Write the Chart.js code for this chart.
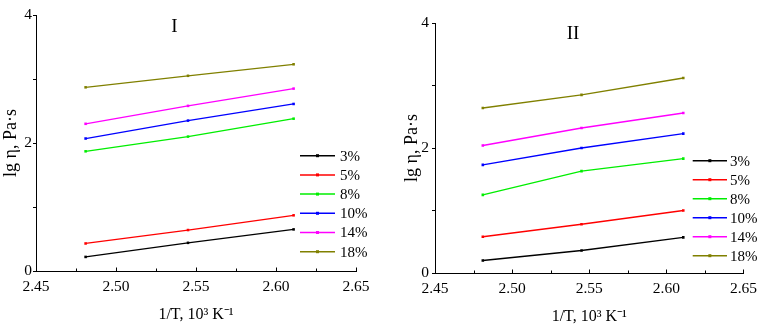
<!DOCTYPE html>
<html>
<head>
<meta charset="utf-8">
<script src="https://cdn.jsdelivr.net/npm/chart.js@4.4.1/dist/chart.umd.min.js"></script>
<style>
  body { margin: 0; background: #fff; }
  #wrap { position: relative; width: 764px; height: 326px; overflow: hidden; }
  canvas { position: absolute; top: 0; }
</style>
</head>
<body>
<div id="wrap">
  <canvas id="c1" width="380" height="326" style="left:0px"></canvas>
  <canvas id="c2" width="380" height="326" style="left:384px"></canvas>
</div>
<script>
// 1/T values, 10^3 K^-1
var xValues = [2.481, 2.545, 2.611];
var seriesLabels = ['3%', '5%', '8%', '10%', '14%', '18%'];
var seriesColors = ['#000000', '#ff0000', '#00ee00', '#0000ff', '#ff00ff', '#808000'];

// panel I, lg eta
var p1_3 = [0.22, 0.44, 0.65];
var p1_5 = [0.43, 0.64, 0.87];
var p1_8 = [1.87, 2.10, 2.38];
var p1_10 = [2.07, 2.35, 2.61];
var p1_14 = [2.30, 2.58, 2.85];
var p1_18 = [2.87, 3.05, 3.23];

// panel II, lg eta
var p2_3 = [0.20, 0.36, 0.57];
var p2_5 = [0.58, 0.78, 1.00];
var p2_8 = [1.25, 1.63, 1.83];
var p2_10 = [1.73, 2.00, 2.23];
var p2_14 = [2.04, 2.32, 2.56];
var p2_18 = [2.64, 2.85, 3.12];

var FONT = "'Liberation Serif', 'Times New Roman', serif";

function makeDatasets(series) {
  return series.map(function(vals, i) {
    return {
      label: seriesLabels[i],
      data: xValues.map(function(x, j) { return {x: x, y: vals[j]}; }),
      borderColor: seriesColors[i],
      backgroundColor: seriesColors[i],
      borderWidth: 1.3,
      pointStyle: 'rect',
      pointRadius: 1.8,
      pointBorderWidth: 0,
      tension: 0
    };
  });
}

function panelPlugin(p) {
  return {
    id: 'panelExtras',
    afterDraw: function(chart) {
      var ctx = chart.ctx;
      var xs = chart.scales.x;
      var yBase = Math.round(chart.chartArea.bottom) + 0.5;
      ctx.save();
      // inward ticks on x axis
      ctx.strokeStyle = '#000';
      ctx.lineWidth = 1;
      xs.ticks.forEach(function(t) {
        var px = Math.round(xs.getPixelForValue(t.value)) + 0.5;
        var major = Math.abs(t.value * 20 - Math.round(t.value * 20)) < 1e-6;
        ctx.beginPath();
        ctx.moveTo(px, yBase);
        ctx.lineTo(px, yBase - (major ? 4 : 3));
        ctx.stroke();
      });
      // panel numeral
      ctx.fillStyle = '#000';
      ctx.font = '19px ' + FONT;
      ctx.textAlign = 'center';
      ctx.textBaseline = 'middle';
      ctx.fillText(p.title, p.titleX, p.titleY);
      // legend
      ctx.font = '15px ' + FONT;
      ctx.textAlign = 'left';
      chart.data.datasets.forEach(function(ds, i) {
        var y = p.legendY + i * p.legendStep;
        ctx.strokeStyle = ds.borderColor;
        ctx.lineWidth = 1.5;
        ctx.beginPath();
        ctx.moveTo(p.lineX1, y);
        ctx.lineTo(p.lineX2, y);
        ctx.stroke();
        ctx.fillStyle = ds.borderColor;
        var mx = (p.lineX1 + p.lineX2) / 2;
        ctx.fillRect(mx - 1.5, y - 1.5, 3, 3);
        ctx.fillStyle = '#000';
        ctx.fillText(ds.label, p.textX, y + 1);
      });
      ctx.restore();
    }
  };
}

function makeChart(id, series, p) {
  return new Chart(document.getElementById(id), {
    type: 'line',
    data: { datasets: makeDatasets(series) },
    options: {
      responsive: false,
      animation: false,
      layout: { padding: p.pad },
      plugins: { legend: { display: false }, tooltip: { enabled: false } },
      scales: {
        x: {
          type: 'linear',
          min: 2.45,
          max: 2.65,
          afterFit: function(s) { s.height = p.xHeight; },
          grid: { display: false, drawTicks: false },
          border: { display: true, color: '#000', width: 1 },
          ticks: {
            stepSize: 0.025,
            autoSkip: false,
            maxRotation: 0,
            padding: 7,
            color: '#000',
            font: { family: FONT, size: 15.5 },
            callback: function(v) {
              return Math.abs(v * 20 - Math.round(v * 20)) < 1e-6 ? v.toFixed(2) : '';
            }
          },
          title: {
            display: true,
            text: '1/T, 10\u00b3 K\u207b\u00b9',
            color: '#000',
            font: { family: FONT, size: 16 },
            padding: { top: 0, bottom: 0 }
          }
        },
        y: {
          min: 0,
          max: 4,
          afterFit: function(s) { s.width = p.yWidth; },
          grid: { drawOnChartArea: false, drawTicks: true, tickLength: 3, color: '#000' },
          border: { display: true, color: '#000', width: 1 },
          ticks: {
            stepSize: 1,
            padding: p.yTickPad,
            color: '#000',
            font: { family: FONT, size: 15.5 },
            callback: function(v) { return v % 2 === 0 ? String(v) : ''; }
          },
          title: {
            display: true,
            text: 'lg \u03b7, Pa\u00b7s',
            color: '#000',
            font: { family: FONT, size: 18 },
            padding: { top: p.yTitlePad, bottom: 0 }
          }
        }
      }
    },
    plugins: [panelPlugin(p)]
  });
}

makeChart('c1', [p1_3, p1_5, p1_8, p1_10, p1_14, p1_18], {
  pad: { left: 0, top: 15, right: 24, bottom: 2 },
  yWidth: 36, xHeight: 53, yTickPad: 1, yTitlePad: 0,
  title: 'I', titleX: 174.5, titleY: 27.5,
  lineX1: 300, lineX2: 335, textX: 340, legendY: 155.7, legendStep: 19.2
});

makeChart('c2', [p2_3, p2_5, p2_8, p2_10, p2_14, p2_18], {
  pad: { left: 0, top: 23, right: 16, bottom: 0 },
  yWidth: 51, xHeight: 53, yTickPad: 3, yTitlePad: 17.5,
  title: 'II', titleX: 189, titleY: 34.5,
  lineX1: 308.7, lineX2: 343, textX: 346, legendY: 160.7, legendStep: 19.0
});
</script>
</body>
</html>
